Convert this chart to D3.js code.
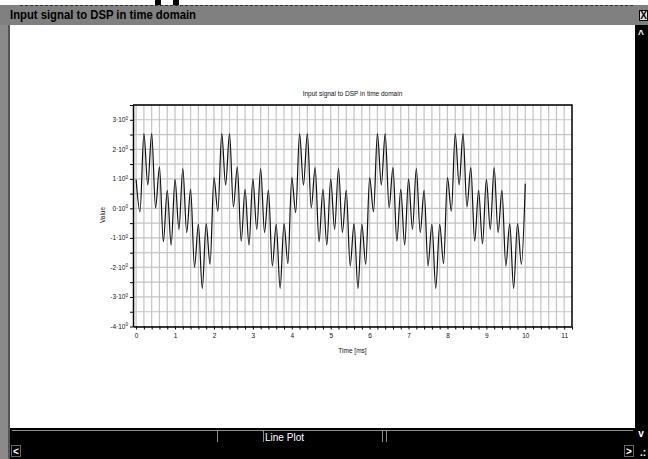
<!DOCTYPE html>
<html lang="en">
<head>
<meta charset="UTF-8">
<script src="https://cdn.jsdelivr.net/npm/d3@7"></script>
<title>Input signal to DSP in time domain</title>
<style>
html, body { margin: 0; padding: 0; background: #fff; overflow: hidden; }
svg { display: block; font-family: 'Liberation Sans', Arial, sans-serif; }
.tick text { font-size: 6.5px; fill: #111; }
.small { font-size: 6.5px; fill: #111; }
</style>
</head>
<body>
<svg id="canvas"></svg>
<script>
// signal: one value every 0.1 ms (alternating peaks / troughs)
let sampleStep = 0.1
let period0to2 = [0.98, -0.12, 2.53, 0.79, 2.53, 0.02, 1.40, -1.13, 0.61, -1.24, 0.98, -0.71, 1.35, -0.82, 0.64, -1.99, -0.54, -2.71, -0.52, -1.90]
let period2to4 = [1.04, -0.10, 2.53, 0.79, 2.53, 0.05, 1.40, -1.11, 0.64, -1.24, 1.00, -0.71, 1.35, -0.82, 0.61, -1.95, -0.54, -2.71, -0.52, -1.87]
let period4to6 = [1.04, -0.14, 2.53, 0.79, 2.53, 0.02, 1.38, -1.13, 0.64, -1.24, 1.00, -0.71, 1.35, -0.82, 0.61, -1.95, -0.52, -2.71, -0.54, -1.90]
let period6to8 = [1.04, -0.11, 2.53, 0.79, 2.53, 0.02, 1.38, -1.11, 0.64, -1.24, 1.00, -0.71, 1.35, -0.82, 0.61, -1.95, -0.54, -2.71, -0.54, -1.87]
let period8to10 = [1.04, -0.09, 2.53, 0.79, 2.53, 0.05, 1.38, -1.11, 0.61, -1.20, 0.98, -0.71, 1.38, -0.82, 0.61, -1.95, -0.52, -2.71, -0.52, -1.90]
let lastSample = [0.83]

let xTicks = [0, 1, 2, 3, 4, 5, 6, 7, 8, 9, 10, 11]
let yTicks = [-4, -3, -2, -1, 0, 1, 2, 3]

let windowTitle = 'Input signal to DSP in time domain'
let plotTitle = 'Input signal to DSP in time domain'
let xLabel = 'Time [ms]'
let yLabel = 'Value'
let tabLabel = 'Line Plot'

let width = 648
let height = 459

let svg = d3.select('#canvas').attr('width', width).attr('height', height)

let values = [].concat(period0to2, period2to4, period4to6, period6to8, period8to10, lastSample)
    .map((v, i) => ({ t: i * sampleStep, v: v }))

let xScale = d3.scaleLinear().domain([-0.08, 11.2]).range([133, 572])
let yScale = d3.scaleLinear().domain([-4, 3.5]).range([326.5, 105])

// ---------- window chrome ----------
let drawWindow = () => {
    // bottom of a cut-off heading above the window
    svg.append('rect').attr('x', 155).attr('y', 0).attr('width', 6).attr('height', 5).attr('fill', '#000')
    svg.append('rect').attr('x', 173).attr('y', 0).attr('width', 6).attr('height', 5).attr('fill', '#000')

    svg.append('rect').attr('x', 0).attr('y', 5).attr('width', width).attr('height', 20).attr('fill', '#808080')
    svg.append('line').attr('x1', 20).attr('x2', 634).attr('y1', 5.5).attr('y2', 5.5)
        .attr('stroke', '#333').attr('stroke-dasharray', '3,2')
    svg.append('text').attr('x', 10).attr('y', 19)
        .attr('textLength', 186).attr('lengthAdjust', 'spacingAndGlyphs')
        .style('font-size', '12px').style('font-weight', 'bold').attr('fill', '#000')
        .text(windowTitle)

    // close box
    svg.append('rect').attr('x', 639.5).attr('y', 10.5).attr('width', 8).attr('height', 10)
        .attr('fill', '#ddd').attr('stroke', '#000')
    svg.append('text').attr('x', 643.5).attr('y', 19).attr('text-anchor', 'middle')
        .style('font-size', '10px').style('font-weight', 'bold').text('X')

    // left frame
    svg.append('rect').attr('x', 0).attr('y', 25).attr('width', 8).attr('height', height - 25).attr('fill', '#8a8a8a')
    svg.append('rect').attr('x', 8).attr('y', 25).attr('width', 2).attr('height', height - 25).attr('fill', '#555')

    // right scroll strip + bottom band
    svg.append('rect').attr('x', 635).attr('y', 25).attr('width', 13).attr('height', height - 25).attr('fill', '#000')
    svg.append('rect').attr('x', 10).attr('y', 428).attr('width', width - 10).attr('height', height - 428).attr('fill', '#000')

    let grey = '#8c8c8c'
    svg.append('line').attr('x1', 12).attr('x2', 633).attr('y1', 430.5).attr('y2', 430.5).attr('stroke', grey)
    ;[217, 263, 382, 386].forEach(x => {
        svg.append('line').attr('x1', x + 0.5).attr('x2', x + 0.5).attr('y1', 430).attr('y2', 442).attr('stroke', grey)
    })
    svg.append('text').attr('x', 265).attr('y', 441)
        .attr('textLength', 39).attr('lengthAdjust', 'spacingAndGlyphs')
        .style('font-size', '11px').attr('fill', '#fff').text(tabLabel)

    // scroll box outlines
    svg.append('rect').attr('x', 11.5).attr('y', 445.5).attr('width', 9).attr('height', 11)
        .attr('fill', 'none').attr('stroke', '#666')
    svg.append('rect').attr('x', 624.5).attr('y', 445.5).attr('width', 9).attr('height', 11)
        .attr('fill', 'none').attr('stroke', '#666')

    let arrow = (x, y, s) => svg.append('text').attr('x', x).attr('y', y).attr('text-anchor', 'middle')
        .style('font-size', '10px').style('font-weight', 'bold').attr('fill', '#fff').text(s)
    arrow(641, 38, '^')
    arrow(641, 437, 'v')
    arrow(16, 455, '<')
    arrow(629, 455, '>')
    arrow(643, 456, '.:')
}

// ---------- plot ----------
let drawGrid = () => {
    let vLines = d3.range(0, 57).map(i => i * 0.2).filter(d => d <= 11.2)
    let hLines = d3.range(0, 16).map(i => -4 + i * 0.5)

    svg.append('g').selectAll('line').data(vLines).enter().append('line')
        .attr('x1', d => xScale(d)).attr('x2', d => xScale(d))
        .attr('y1', yScale(3.5)).attr('y2', yScale(-4))
        .attr('stroke', '#c4c4c4').attr('stroke-width', 1.2)

    svg.append('g').selectAll('line').data(hLines).enter().append('line')
        .attr('x1', xScale.range()[0]).attr('x2', xScale.range()[1])
        .attr('y1', d => yScale(d)).attr('y2', d => yScale(d))
        .attr('stroke', '#c4c4c4').attr('stroke-width', 1.2)
}

let drawAxes = () => {
    let minorX = d3.range(0, 57).map(i => +(i * 0.2).toFixed(1)).filter(d => d <= 11.2)
    let xAxis = d3.axisBottom(xScale)
        .tickValues(minorX)
        .tickSize(3).tickSizeOuter(0).tickPadding(4)
        .tickFormat(d => xTicks.includes(d) ? d3.format('d')(d) : '')

    let gx = svg.append('g').attr('id', 'x-axis')
        .attr('transform', 'translate(0,' + yScale(-4) + ')')
        .call(xAxis)
    gx.select('.domain').attr('stroke', '#000').attr('stroke-width', 1.5)

    let minorY = d3.range(0, 16).map(i => -4 + i * 0.5)
    let yAxis = d3.axisLeft(yScale)
        .tickValues(minorY)
        .tickSize(3).tickSizeOuter(0)
        .tickFormat('')

    let gy = svg.append('g').attr('id', 'y-axis')
        .attr('transform', 'translate(' + xScale(-0.08) + ',0)')
        .call(yAxis)
    gy.select('.domain').attr('stroke', '#000').attr('stroke-width', 1.5)

    // y labels like 3·10^0
    let labels = svg.append('g').selectAll('text').data(yTicks).enter().append('text')
        .attr('class', 'small')
        .attr('x', 128).attr('y', d => yScale(d) + 2.3)
        .attr('text-anchor', 'end')
    labels.append('tspan').text(d => d + '·10')
    labels.append('tspan').attr('dy', -2.5).style('font-size', '4.5px').text('0')

    // top and right border of the frame
    svg.append('path')
        .attr('d', 'M' + xScale(-0.08) + ',' + yScale(3.5) + 'H' + xScale(11.2) + 'V' + yScale(-4))
        .attr('fill', 'none').attr('stroke', '#000').attr('stroke-width', 1.5)
}

let drawLabels = () => {
    let cx = (xScale.range()[0] + xScale.range()[1]) / 2
    svg.append('text').attr('class', 'small').attr('x', cx).attr('y', 96)
        .attr('text-anchor', 'middle').text(plotTitle)
    svg.append('text').attr('class', 'small').attr('x', cx).attr('y', 353)
        .attr('text-anchor', 'middle').text(xLabel)
    svg.append('text').attr('class', 'small')
        .attr('transform', 'translate(105,215) rotate(-90)')
        .attr('text-anchor', 'middle').text(yLabel)
}

let drawLine = () => {
    let line = d3.line()
        .x(d => xScale(d.t))
        .y(d => yScale(d.v))
        .curve(d3.curveMonotoneX)

    svg.append('path')
        .datum(values)
        .attr('d', line)
        .attr('fill', 'none')
        .attr('stroke', '#111')
        .attr('stroke-width', 1.2)
}

drawWindow()
drawGrid()
drawAxes()
drawLine()
drawLabels()
</script>
</body>
</html>
